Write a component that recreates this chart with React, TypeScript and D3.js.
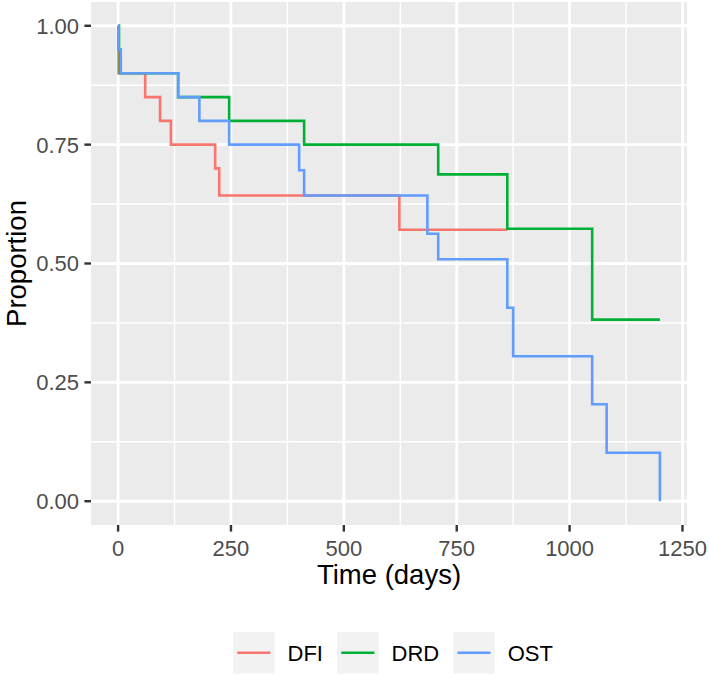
import React, { useEffect } from "react";
import * as d3 from "d3";

// ---- data ----
const groups = ["DFI", "DRD", "OST"];
const colors = ["#F8766D", "#00B036", "#619CFF"];

const dfiTime = [0, 0.5, 1, 60, 93, 117, 215, 224, 623, 862];
const dfiSurv = [1.0, 0.95, 0.9, 0.85, 0.8, 0.75, 0.7, 0.643, 0.571, 0.571];

const drdTime = [0, 2, 4, 133, 246, 412, 709, 862, 1050, 1200];
const drdSurv = [1.0, 0.95, 0.9, 0.85, 0.8, 0.75, 0.6875, 0.573, 0.382, 0.382];

const ostTime = [0, 1, 6, 133, 180, 246, 401, 412, 685, 709, 862, 875, 1050, 1082, 1200];
const ostSurv = [1.0, 0.95, 0.9, 0.85, 0.8, 0.75, 0.696, 0.643, 0.5625, 0.509, 0.407, 0.305, 0.204, 0.102, 0.0];

const xTicks = [0, 250, 500, 750, 1000, 1250];
const xMinor = [125, 375, 625, 875, 1125];
const yTicks = [0, 0.25, 0.5, 0.75, 1.0];
const yMinor = [0.125, 0.375, 0.625, 0.875];

const xTitle = "Time (days)";
const yTitle = "Proportion";

const W = 709;
const H = 678;
const FONT = "'Liberation Sans', Arial, Helvetica, sans-serif";

export default function App() {
  useEffect(() => {
    document.body.style.margin = "0";
  }, []);

  const panel = { left: 91, right: 687, top: 2, bottom: 525 };
  const x = d3.scaleLinear().domain([-60, 1260]).range([panel.left, panel.right]);
  const y = d3.scaleLinear().domain([-0.05, 1.05]).range([panel.bottom, panel.top]);

  const line = d3
    .line<[number, number]>()
    .x((d) => x(d[0]))
    .y((d) => y(d[1]))
    .curve(d3.curveStepAfter);

  const series: [number, number][][] = [
    dfiTime.map((t, i) => [t, dfiSurv[i]] as [number, number]),
    drdTime.map((t, i) => [t, drdSurv[i]] as [number, number]),
    ostTime.map((t, i) => [t, ostSurv[i]] as [number, number]),
  ];

  const tickLen = 6.6;
  const tickFont = 22;
  const titleFont = 27.5;

  // legend layout
  const keySize = 41.5;
  const keyTop = 632;
  const textW = [34.6, 46.6, 44.2];
  const legendStart = 233;
  const legendItems: { kx: number; tx: number }[] = [];
  let cx = legendStart;
  groups.forEach((g, i) => {
    legendItems.push({ kx: cx, tx: cx + keySize + 13 });
    cx = cx + keySize + 13 + textW[i] + 15;
  });

  return (
    <div style={{ position: "absolute", left: 0, top: 0 }}>
      <svg width={W} height={H} style={{ display: "block", fontFamily: FONT }}>
        <rect x={0} y={0} width={W} height={H} fill="#FFFFFF" />
        <rect
          x={panel.left}
          y={panel.top}
          width={panel.right - panel.left}
          height={panel.bottom - panel.top}
          fill="#EBEBEB"
        />
        {/* minor grid */}
        {xMinor.map((v) => (
          <line key={"xm" + v} x1={x(v)} x2={x(v)} y1={panel.top} y2={panel.bottom} stroke="#FFFFFF" strokeWidth={1.4} />
        ))}
        {yMinor.map((v) => (
          <line key={"ym" + v} x1={panel.left} x2={panel.right} y1={y(v)} y2={y(v)} stroke="#FFFFFF" strokeWidth={1.4} />
        ))}
        {/* major grid */}
        {xTicks.map((v) => (
          <line key={"xg" + v} x1={x(v)} x2={x(v)} y1={panel.top} y2={panel.bottom} stroke="#FFFFFF" strokeWidth={2.8} />
        ))}
        {yTicks.map((v) => (
          <line key={"yg" + v} x1={panel.left} x2={panel.right} y1={y(v)} y2={y(v)} stroke="#FFFFFF" strokeWidth={2.8} />
        ))}

        {/* survival curves */}
        {series.map((s, i) => (
          <path key={groups[i]} d={line(s) || ""} fill="none" stroke={colors[i]} strokeWidth={2.6} />
        ))}

        {/* y axis */}
        {yTicks.map((v) => (
          <g key={"yt" + v}>
            <line x1={panel.left - tickLen} x2={panel.left} y1={y(v)} y2={y(v)} stroke="#333333" strokeWidth={2.4} />
            <text
              x={panel.left - tickLen - 5.3}
              y={y(v)}
              dy="0.36em"
              textAnchor="end"
              fontSize={tickFont}
              fill="#4D4D4D"
            >
              {d3.format(".2f")(v)}
            </text>
          </g>
        ))}
        {/* x axis */}
        {xTicks.map((v) => (
          <g key={"xt" + v}>
            <line x1={x(v)} x2={x(v)} y1={panel.bottom} y2={panel.bottom + tickLen} stroke="#333333" strokeWidth={2.4} />
            <text x={x(v)} y={556} textAnchor="middle" fontSize={tickFont} fill="#4D4D4D">
              {String(v)}
            </text>
          </g>
        ))}

        {/* axis titles */}
        <text x={(panel.left + panel.right) / 2} y={584} textAnchor="middle" fontSize={titleFont} fill="#000000">
          {xTitle}
        </text>
        <text
          transform={`translate(25.5, ${(panel.top + panel.bottom) / 2}) rotate(-90)`}
          textAnchor="middle"
          fontSize={titleFont}
          fill="#000000"
        >
          {yTitle}
        </text>

        {/* legend */}
        {groups.map((g, i) => (
          <g key={"lg" + g}>
            <rect x={legendItems[i].kx} y={keyTop} width={keySize} height={keySize} fill="#F2F2F2" />
            <line
              x1={legendItems[i].kx + 4.2}
              x2={legendItems[i].kx + keySize - 4.2}
              y1={keyTop + keySize / 2}
              y2={keyTop + keySize / 2}
              stroke={colors[i]}
              strokeWidth={2.6}
            />
            <text
              x={legendItems[i].tx}
              y={keyTop + keySize / 2}
              dy="0.36em"
              fontSize={tickFont}
              fill="#000000"
            >
              {g}
            </text>
          </g>
        ))}
      </svg>
    </div>
  );
}
